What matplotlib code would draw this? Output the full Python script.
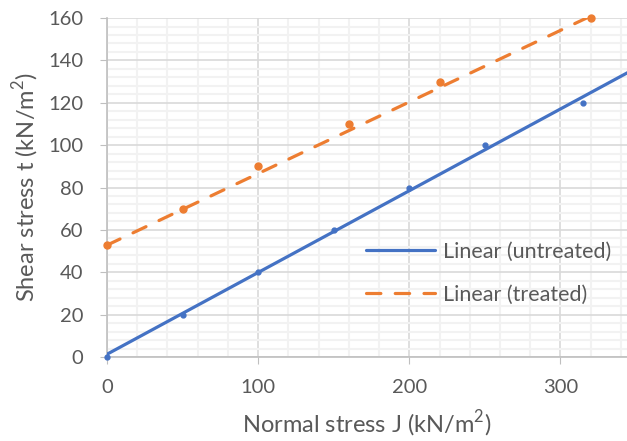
import numpy as np
import matplotlib
matplotlib.use("Agg")
import matplotlib.pyplot as plt
from matplotlib.ticker import MultipleLocator

plt.rcParams['font.family'] = ['Lato', 'DejaVu Sans']
plt.rcParams['mathtext.fontset'] = 'custom'
plt.rcParams['mathtext.rm'] = 'Lato'

# data
x_untreated = [0, 50, 100, 150, 200, 250, 315]
y_untreated = [0, 20, 40, 60, 80, 100, 120]
x_treated = [0, 50, 100, 160, 220, 320]
y_treated = [53, 70, 90, 110, 130, 160]
# trend lines as drawn in the chart (intercept, slope)
trend_untreated = [1.3, 0.386]
trend_treated = [52.8, 0.338]

blue = '#4472C4'
orange = '#ED7D31'
txt = '#595959'

fig = plt.figure(figsize=(6.27, 4.41), dpi=100)
ax = fig.add_axes([0.1707, 0.1905, 0.8293, 0.7685])

xx = np.array([0, 345])
ax.plot(xx, trend_untreated[0] + trend_untreated[1] * xx, color=blue, lw=2.3,
        solid_capstyle='round', label='Linear (untreated)', zorder=3)
ax.plot(xx, trend_treated[0] + trend_treated[1] * xx, color=orange, lw=2.3,
        dashes=(4.5, 4.5), dash_capstyle='round', label='Linear (treated)', zorder=3)

ax.plot(x_untreated, y_untreated, 'o', color=blue, ms=3.5, zorder=4, clip_on=False)
ax.plot(x_treated, y_treated, 'o', color=orange, ms=5, zorder=4, clip_on=False)

ax.set_xlim(0, 344)
ax.set_ylim(0, 160)
ax.xaxis.set_major_locator(MultipleLocator(100))
ax.xaxis.set_minor_locator(MultipleLocator(20))
ax.yaxis.set_major_locator(MultipleLocator(20))
ax.yaxis.set_minor_locator(MultipleLocator(4))
ax.grid(which='minor', color='#f2f2f2', lw=1.5, zorder=0)
ax.grid(which='major', color='#d9d9d9', lw=1.2, zorder=1)
ax.set_axisbelow(True)

for s in ['top', 'right']:
    ax.spines[s].set_visible(False)
for s in ['left', 'bottom']:
    ax.spines[s].set_color('#bfbfbf')
    ax.spines[s].set_linewidth(1.2)
ax.tick_params(which='major', length=5, color='#bfbfbf', labelcolor=txt,
               labelsize=14.5)
ax.tick_params(axis='x', pad=11)
ax.tick_params(axis='y', pad=12)
ax.tick_params(which='minor', length=0)

ax.set_xlabel(r'Normal stress J (kN/m$^{2}$)', color=txt, fontsize=17, labelpad=9)
ax.set_ylabel(r'Shear stress t (kN/m$^{2}$)', color=txt, fontsize=17, labelpad=5)

leg = ax.legend(loc='upper left', bbox_to_anchor=(0.498, 0.34), frameon=False,
                fontsize=15.5, handlelength=3.2, labelspacing=1.05,
                handletextpad=0.37, borderpad=0, borderaxespad=0)
for t in leg.get_texts():
    t.set_color(txt)

fig.savefig('out.png', dpi=100)
